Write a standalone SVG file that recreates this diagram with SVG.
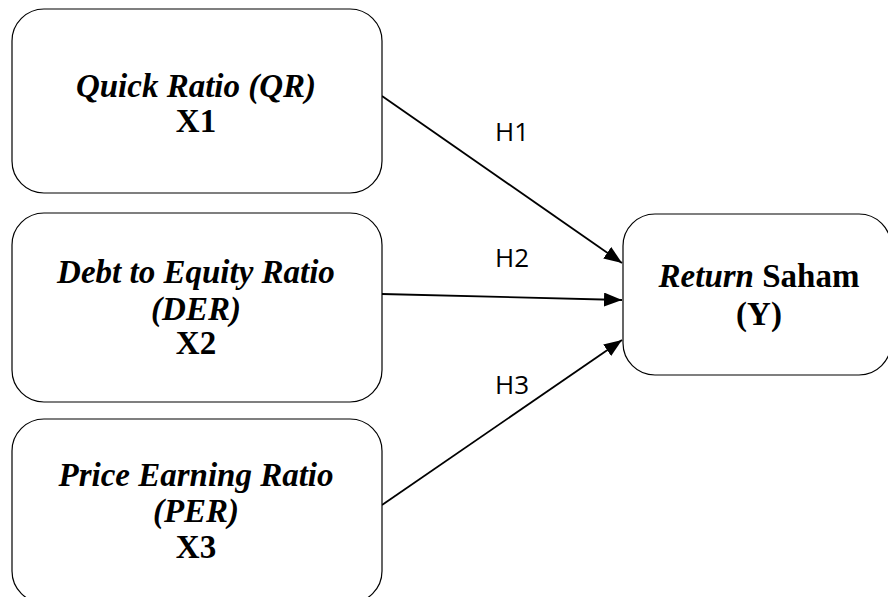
<svg xmlns="http://www.w3.org/2000/svg" width="888" height="597" viewBox="0 0 888 597">
  <defs>
    <marker id="arrow" viewBox="0 0 18 14" refX="18" refY="7" markerWidth="18" markerHeight="14" markerUnits="userSpaceOnUse" orient="auto">
      <path d="M0,0 L18,7 L0,14 z" fill="#000"/>
    </marker>
    <style>
      .box { fill: #fff; stroke: #000; stroke-width: 1.2; }
      .t { font-family: "Liberation Serif", "Times New Roman", serif; font-size: 33px; font-weight: bold; text-anchor: middle; fill: #000; }
      .i { font-style: italic; }
      .lbl { font-family: "Open Sans", "Liberation Sans", sans-serif; font-size: 26px; fill: #000; }
      .edge { stroke: #000; stroke-width: 1.8; fill: none; marker-end: url(#arrow); }
    </style>
  </defs>
  <rect width="888" height="597" fill="#fff"/>

  <g id="edges">
    <line class="edge" x1="382" y1="96" x2="622" y2="263"/>
    <line class="edge" x1="382" y1="294" x2="622" y2="300"/>
    <line class="edge" x1="382" y1="505" x2="622" y2="340"/>
    <text class="lbl" x="495" y="141">H1</text>
    <text class="lbl" x="495" y="267">H2</text>
    <text class="lbl" x="495" y="394">H3</text>
  </g>

  <g id="qr">
    <rect class="box" x="12" y="9" width="370" height="184" rx="32"/>
    <text class="t i" x="196" y="97">Quick Ratio (QR)</text>
    <text class="t" x="196" y="132">X1</text>
  </g>

  <g id="der">
    <rect class="box" x="12" y="213" width="370" height="189" rx="32"/>
    <text class="t i" x="196" y="283">Debt to Equity Ratio</text>
    <text class="t i" x="196" y="320">(DER)</text>
    <text class="t" x="196" y="354">X2</text>
  </g>

  <g id="per">
    <rect class="box" x="12" y="419" width="370" height="184" rx="32"/>
    <text class="t i" x="196" y="486">Price Earning Ratio</text>
    <text class="t i" x="196" y="522">(PER)</text>
    <text class="t" x="196" y="558">X3</text>
  </g>

  <g id="return">
    <rect class="box" x="623" y="214" width="268" height="161" rx="32"/>
    <text class="t" x="759" y="287"><tspan class="i">Return</tspan> Saham</text>
    <text class="t" x="759" y="325">(Y)</text>
  </g>
</svg>
